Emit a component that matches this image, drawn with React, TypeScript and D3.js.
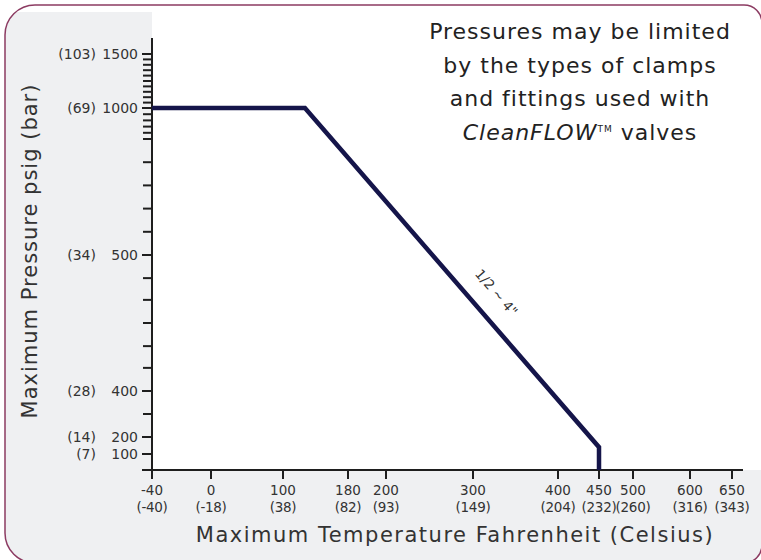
import * as d3 from 'd3';

// Temperature axis (°F) with Celsius equivalents
const tempTicks = [-40, 0, 100, 180, 200, 300, 400, 450, 500, 600, 650];
const tempCelsius = ['(-40)', '(-18)', '(38)', '(82)', '(93)', '(149)', '(204)', '(232)', '(260)', '(316)', '(343)'];

// Pressure axis (psig) with bar equivalents
const pressureTicks = [100, 200, 400, 500, 1000, 1500];
const pressureBar = ['(7)', '(14)', '(28)', '(34)', '(69)', '(103)'];
const pressureMinor = [
  1450, 1400, 1350, 1300, 1250, 1200, 1150, 1100, 1050,
  950, 900, 850, 800, 750, 700, 650, 600, 550,
  483, 467, 450, 433, 417, 300,
];

// Rating curve for 1/2 - 4" valves
const ratingTemp = [-40, 127, 450, 450];
const ratingPressure = [1000, 1000, 140, 0];

const noteLines = ['Pressures may be limited', 'by the types of clamps', 'and fittings used with'];

const W = 761;
const H = 560;
const FONT = '"DejaVu Sans", Verdana, sans-serif';

// the original chart uses a hand-spaced (non-linear) grid, so both scales are piecewise
const x = d3.scaleLinear()
  .domain(tempTicks)
  .range([152, 211, 283, 348, 386, 473, 558, 599, 633, 690, 732]);

const y = d3.scaleLinear()
  .domain([0, 100, 200, 400, 500, 750, 1000, 1500])
  .range([470, 454, 437, 391, 255, 139, 108, 54]);

export default function App() {
  const x0 = x(-40);
  const y0 = y(0);

  const line = d3.line<number>()
    .x((_, i) => x(ratingTemp[i]))
    .y((d) => y(d));

  // label sits along the sloped segment
  const p0 = [x(ratingTemp[1]), y(ratingPressure[1])];
  const p1 = [x(ratingTemp[2]), y(ratingPressure[2])];
  const angle = (Math.atan2(p1[1] - p0[1], p1[0] - p0[0]) * 180) / Math.PI;
  const t = 0.59;
  const lx = p0[0] + (p1[0] - p0[0]) * t;
  const ly = p0[1] + (p1[1] - p0[1]) * t;

  const frame = 'M5,35 A30,30 0 0 1 35,5 L744,5 A18,18 0 0 1 762,23 L762,545 A18,18 0 0 1 744,563 L35,563 A30,30 0 0 1 5,533 Z';

  return (
    <svg width={W} height={H} style={{ position: 'absolute', left: 0, top: 0, display: 'block' }} fontFamily={FONT}>
      <defs>
        <clipPath id="frameClip">
          <path d={frame} />
        </clipPath>
      </defs>

      {/* panel */}
      <path d={frame} fill="#ffffff" />
      <g clipPath="url(#frameClip)" fill="#eff0f2">
        <rect x={0} y={12} width={x0} height={H} />
        <rect x={0} y={y0} width={W + 10} height={H} />
      </g>
      <path d={frame} fill="none" stroke="#8c3b62" strokeWidth={1.5} />

      {/* y axis */}
      <line x1={x0} x2={x0} y1={38} y2={y0 + 9} stroke="#1e1e1e" strokeWidth={2} />
      {pressureMinor.map((v) => (
        <line key={'m' + v} x1={x0 - 9} x2={x0} y1={y(v)} y2={y(v)} stroke="#1e1e1e" strokeWidth={2} />
      ))}
      {pressureTicks.map((v, i) => (
        <g key={'y' + v} transform={`translate(0,${y(v)})`}>
          <line x1={x0 - 10} x2={x0} stroke="#1e1e1e" strokeWidth={2} />
          <text x={138} dy="0.36em" textAnchor="end" fontSize={14} fill="#333">{v}</text>
          <text x={96} dy="0.36em" textAnchor="end" fontSize={14} fill="#333">{pressureBar[i]}</text>
        </g>
      ))}

      {/* x axis */}
      <line x1={x0 - 10} x2={743} y1={y0} y2={y0} stroke="#1e1e1e" strokeWidth={2} />
      {tempTicks.map((v, i) => (
        <g key={'x' + v} transform={`translate(${x(v)},0)`}>
          <line y1={y0} y2={y0 + 9} stroke="#1e1e1e" strokeWidth={2} />
          <text y={495} textAnchor="middle" fontSize={13.5} fill="#333">{v}</text>
          <text y={512} textAnchor="middle" fontSize={13.5} letterSpacing={-0.3} fill="#333">{tempCelsius[i]}</text>
        </g>
      ))}

      {/* rating line */}
      <path d={line(ratingPressure) as string} fill="none" stroke="#15154a" strokeWidth={4.5} strokeLinejoin="miter" />
      <text
        transform={`translate(${lx},${ly}) rotate(${angle})`}
        y={-19}
        textAnchor="middle"
        fontSize={13.5}
        fill="#333"
      >
        1/2 ~ 4"
      </text>

      {/* axis titles */}
      <text
        transform={`translate(37,251) rotate(-90)`}
        textAnchor="middle"
        fontSize={21}
        letterSpacing={1}
        fill="#333"
      >
        Maximum Pressure psig (bar)
      </text>
      <text x={455} y={542} textAnchor="middle" fontSize={21} letterSpacing={1.5} fill="#333">
        Maximum Temperature Fahrenheit (Celsius)
      </text>

      {/* note */}
      <g fontSize={22} letterSpacing={1} fill="#222" textAnchor="middle">
        {noteLines.map((s, i) => (
          <text key={s} x={580} y={39 + i * 33.7}>{s}</text>
        ))}
        <text x={580} y={39 + 3 * 33.7}>
          <tspan fontStyle="italic">CleanFLOW</tspan>
          <tspan fontSize={9} dy={-8}>TM</tspan>
          <tspan dy={8}> valves</tspan>
        </text>
      </g>
    </svg>
  );
}
